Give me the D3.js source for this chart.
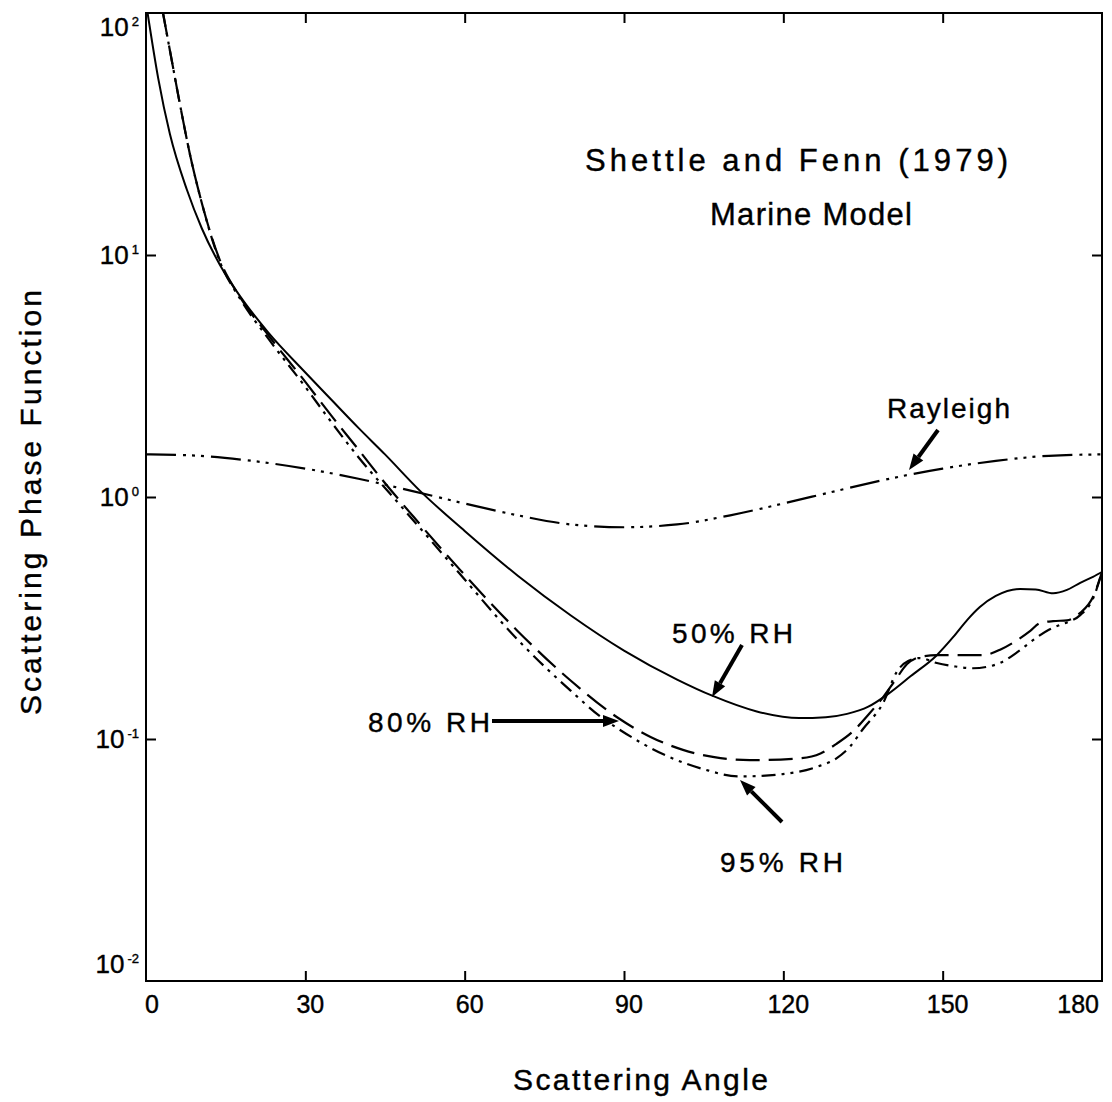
<!DOCTYPE html>
<html><head><meta charset="utf-8">
<script src="https://cdn.jsdelivr.net/npm/d3@7"></script>
<style>
html,body{margin:0;padding:0;background:#fff;}
text{font-family:"Liberation Sans",Arial,sans-serif;fill:#000;stroke:#000;stroke-width:0.4px;}
</style></head>
<body>
<svg id="chart" width="1112" height="1102"></svg>
<script>
// ---- data ----
const xTicks = [0, 30, 60, 90, 120, 150, 180];
const yTicks = [1e-2, 1e-1, 1e0, 1e1, 1e2];
const yTickExp = ["-2", "-1", "0", "1", "2"];

const rayleighAngles = [0, 10, 20, 30, 40, 50, 60, 70, 80, 90, 100, 110, 120, 130, 140, 150, 160, 170, 180];
const rayleighValues = [1.50, 1.48, 1.41, 1.31, 1.19, 1.06, 0.94, 0.84, 0.77, 0.75, 0.77, 0.84, 0.94, 1.06, 1.19, 1.31, 1.41, 1.48, 1.50];

const rh50Angles = [0.3, 2.3, 4.5, 7.7, 10.5, 13.9, 17.7, 23, 30, 35, 40, 45, 51.6, 60, 70, 80, 90, 100, 106.6, 115, 123, 128, 132, 136, 140, 144, 148.9, 152, 154.6, 157, 160, 164.6, 167.5, 170.8, 173.4, 175.9, 178.3, 180];
const rh50Values = [100, 53.7, 31.6, 18.6, 12.9, 9.12, 6.76, 4.79, 3.27, 2.51, 1.93, 1.50, 1.06, 0.724, 0.473, 0.324, 0.232, 0.176, 0.151, 0.130, 0.122, 0.123, 0.127, 0.136, 0.155, 0.182, 0.222, 0.264, 0.31, 0.351, 0.39, 0.417, 0.415, 0.40, 0.413, 0.442, 0.468, 0.49];

const rh80Angles = [3.2, 4.9, 6.6, 8.3, 10.2, 13.9, 17.7, 23, 30, 34.6, 40, 44.6, 50.3, 59.1, 70, 80, 88.7, 95, 101.1, 107, 113.7, 123.1, 127, 130, 133, 136, 138.8, 141, 143.3, 146, 148.9, 153, 157.6, 161, 164, 166.5, 168.3, 170.8, 173.4, 175.9, 178.3, 180];
const rh80Values = [100, 62.8, 39.7, 25.9, 17.4, 9.53, 6.7, 4.67, 2.99, 2.21, 1.57, 1.17, 0.832, 0.501, 0.279, 0.174, 0.123, 0.102, 0.0902, 0.0841, 0.0818, 0.0832, 0.0871, 0.0955, 0.107, 0.126, 0.149, 0.174, 0.204, 0.219, 0.222, 0.222, 0.222, 0.235, 0.256, 0.28, 0.301, 0.307, 0.309, 0.332, 0.386, 0.49];

const rh95Angles = [3.2, 4.9, 6.6, 8.3, 10.2, 13.9, 17.7, 23, 30, 34.6, 40, 47.3, 57.8, 70, 80, 85.5, 88.7, 98.1, 105, 111.8, 119.9, 126.3, 130, 132.6, 135, 138.8, 141.4, 143.5, 145.7, 148.9, 152, 155.7, 158.5, 160.8, 164, 167, 170, 172.1, 173.4, 175.9, 178.3, 180];
const rh95Values = [100, 62.8, 39.7, 25.9, 17.4, 9.4, 6.6, 4.52, 2.85, 2.08, 1.46, 0.955, 0.519, 0.257, 0.158, 0.124, 0.111, 0.0851, 0.0750, 0.0700, 0.0716, 0.0767, 0.0832, 0.0933, 0.110, 0.141, 0.19, 0.21, 0.216, 0.206, 0.20, 0.196, 0.199, 0.206, 0.228, 0.256, 0.283, 0.296, 0.303, 0.325, 0.38, 0.49];

// ---- layout ----
const svg = d3.select("#chart");
const L = 146, R = 1102, T = 13, B = 981;
const x = d3.scaleLinear().domain([0, 180]).range([L, R]);
const y = d3.scaleLog().domain([1e-2, 1e2]).range([B, T]);

svg.append("defs").append("clipPath").attr("id", "clip")
  .append("rect").attr("x", L).attr("y", T).attr("width", R - L).attr("height", B - T);

// frame
svg.append("rect").attr("x", L).attr("y", T).attr("width", R - L).attr("height", B - T)
  .attr("fill", "none").attr("stroke", "#000").attr("stroke-width", 2);

// axes (inward ticks, no domain path)
const tickLen = 10;
const gBottom = svg.append("g").attr("transform", `translate(0,${B})`)
  .call(d3.axisTop(x).tickValues(xTicks.slice(1, -1)).tickSize(tickLen).tickFormat(""));
const gTop = svg.append("g").attr("transform", `translate(0,${T})`)
  .call(d3.axisBottom(x).tickValues(xTicks.slice(1, -1)).tickSize(tickLen).tickFormat(""));
const gLeft = svg.append("g").attr("transform", `translate(${L},0)`)
  .call(d3.axisRight(y).tickValues(yTicks.slice(1, -1)).tickSize(tickLen).tickFormat(""));
const gRight = svg.append("g").attr("transform", `translate(${R},0)`)
  .call(d3.axisLeft(y).tickValues(yTicks.slice(1, -1)).tickSize(tickLen).tickFormat(""));
[gBottom, gTop, gLeft, gRight].forEach(g => {
  g.select(".domain").remove();
  g.selectAll("line").attr("stroke", "#000").attr("stroke-width", 2);
});

// x tick labels
svg.append("g").selectAll("text").data(xTicks).join("text")
  .attr("x", (d, i) => i === xTicks.length - 1 ? x(d) - 3 : x(d) + (i === 0 ? 6 : 5))
  .attr("y", 1013)
  .attr("text-anchor", (d, i) => i === xTicks.length - 1 ? "end" : "middle")
  .attr("font-size", 25)
  .text(d => d);

// y tick labels
const yl = svg.append("g").selectAll("text").data(yTicks).join("text")
  .attr("x", 139)
  .attr("y", (d, i) => y(d) + 9 + (i === 0 ? -17 : 0) + (i === yTicks.length - 1 ? 14 : 0))
  .attr("text-anchor", "end")
  .attr("font-size", 26);
yl.append("tspan").text("10");
yl.append("tspan").attr("dy", -10).attr("dx", 3).attr("font-size", 13).text((d, i) => yTickExp[i]);

// curves
const line = d3.line().x(d => x(d[0])).y(d => y(d[1])).curve(d3.curveMonotoneX);
const plot = svg.append("g").attr("clip-path", "url(#clip)");
function series(angles, values, dash, w) {
  plot.append("path")
    .datum(angles.map((a, i) => [a, values[i]]))
    .attr("d", line)
    .attr("fill", "none").attr("stroke", "#000")
    .attr("stroke-width", w)
    .attr("stroke-dasharray", dash)
    .attr("stroke-linecap", "butt");
}
series(rayleighAngles, rayleighValues, "30,7,3,6,3,6,3,7", 2.2);
series(rh50Angles, rh50Values, null, 2);
series(rh80Angles, rh80Values, "24,9", 2.2);
series(rh95Angles, rh95Values, "14,6,3,6,3,6", 2.2);

// annotations
function txt(s, xL, xR, base, size) {
  svg.append("text").attr("x", xL).attr("y", base).attr("font-size", size)
    .attr("textLength", xR - xL).attr("lengthAdjust", "spacing").text(s);
}
txt("Shettle and Fenn (1979)", 585, 1008, 171, 31);
txt("Marine Model", 710, 912, 225, 31);
txt("Rayleigh", 887, 1010, 418, 28);
txt("50% RH", 672, 793, 643, 28);
txt("80% RH", 368, 490, 732, 28);
txt("95% RH", 720, 843, 872, 28);
txt("Scattering Angle", 513, 768, 1090, 30);

svg.append("text")
  .attr("transform", "translate(41,715) rotate(-90)")
  .attr("font-size", 30)
  .attr("textLength", 425).attr("lengthAdjust", "spacing")
  .text("Scattering Phase Function");

// arrows
function arrow(x1, y1, x2, y2) {
  const ang = Math.atan2(y2 - y1, x2 - x1);
  const hl = 16, hw = 6;
  const bx = x2 - hl * Math.cos(ang), by = y2 - hl * Math.sin(ang);
  svg.append("line").attr("x1", x1).attr("y1", y1).attr("x2", bx).attr("y2", by)
    .attr("stroke", "#000").attr("stroke-width", 4);
  const px = -Math.sin(ang) * hw, py = Math.cos(ang) * hw;
  svg.append("path")
    .attr("d", `M${x2},${y2}L${bx + px},${by + py}L${bx - px},${by - py}Z`)
    .attr("fill", "#000");
}
arrow(938, 430, 909, 470);
arrow(742, 645, 712, 697);
arrow(492, 721, 619, 721);
arrow(782, 822, 740, 780);
</script>
</body></html>
